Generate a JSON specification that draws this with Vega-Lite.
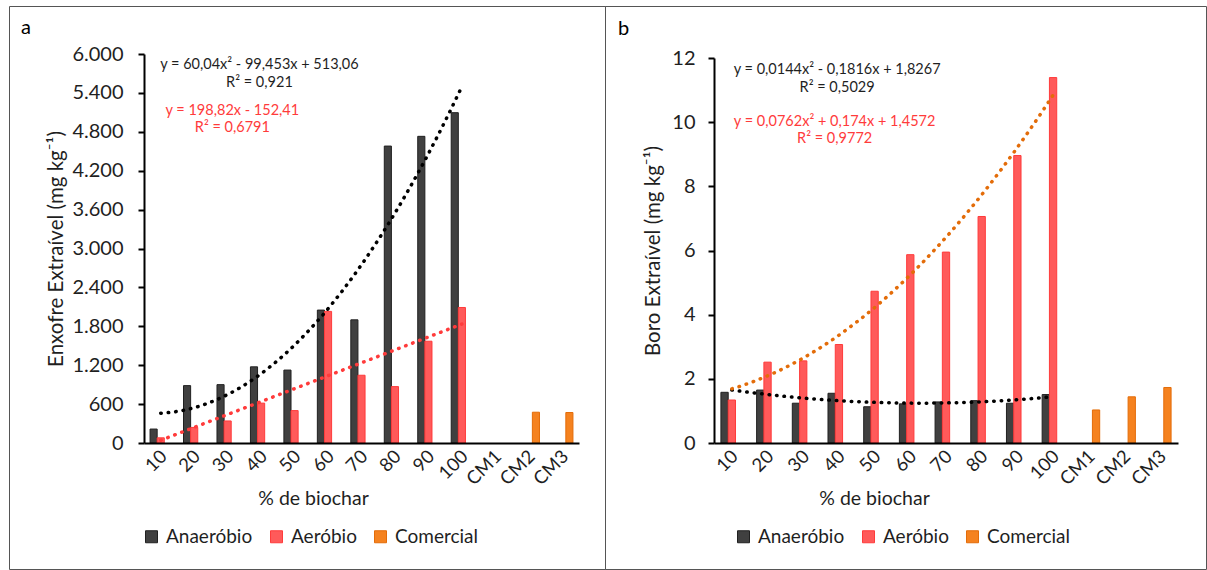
{
  "$schema": "https://vega.github.io/schema/vega-lite/v6.json",
  "background": "white",
  "padding": {"left": 8, "top": 5, "right": 0, "bottom": 0},
  "bounds": "flush",
  "spacing": 0,
  "config": {
    "font": "Lato",
    "view": {"stroke": "#555555", "strokeWidth": 1},
    "axis": {"labelFont": "Lato", "titleFont": "Lato", "labelColor": "#1f1f1f", "titleColor": "#1f1f1f", "titleFontWeight": "normal", "domainColor": "#000000", "tickColor": "#000000", "grid": false, "labelFontSize": 18.5},
    "legend": {"labelFont": "Lato", "labelFontSize": 19, "labelColor": "#1f1f1f"},
    "title": {"font": "Lato", "fontSize": 20, "fontWeight": "normal", "color": "#000000"}
  },
  "datasets": {
    "enxofre": [
      {"trat": "10", "pct": 10, "serie": "Anaeróbio", "valor": 215},
      {"trat": "20", "pct": 20, "serie": "Anaeróbio", "valor": 885},
      {"trat": "30", "pct": 30, "serie": "Anaeróbio", "valor": 900},
      {"trat": "40", "pct": 40, "serie": "Anaeróbio", "valor": 1175},
      {"trat": "50", "pct": 50, "serie": "Anaeróbio", "valor": 1125},
      {"trat": "60", "pct": 60, "serie": "Anaeróbio", "valor": 2050},
      {"trat": "70", "pct": 70, "serie": "Anaeróbio", "valor": 1900},
      {"trat": "80", "pct": 80, "serie": "Anaeróbio", "valor": 4580},
      {"trat": "90", "pct": 90, "serie": "Anaeróbio", "valor": 4730},
      {"trat": "100", "pct": 100, "serie": "Anaeróbio", "valor": 5095},
      {"trat": "10", "pct": 10, "serie": "Aeróbio", "valor": 80},
      {"trat": "20", "pct": 20, "serie": "Aeróbio", "valor": 240},
      {"trat": "30", "pct": 30, "serie": "Aeróbio", "valor": 340},
      {"trat": "40", "pct": 40, "serie": "Aeróbio", "valor": 615},
      {"trat": "50", "pct": 50, "serie": "Aeróbio", "valor": 500},
      {"trat": "60", "pct": 60, "serie": "Aeróbio", "valor": 2030},
      {"trat": "70", "pct": 70, "serie": "Aeróbio", "valor": 1045},
      {"trat": "80", "pct": 80, "serie": "Aeróbio", "valor": 870},
      {"trat": "90", "pct": 90, "serie": "Aeróbio", "valor": 1570},
      {"trat": "100", "pct": 100, "serie": "Aeróbio", "valor": 2090},
      {"trat": "CM2", "pct": null, "serie": "Comercial", "valor": 475},
      {"trat": "CM3", "pct": null, "serie": "Comercial", "valor": 470}
    ],
    "boro": [
      {"trat": "10", "pct": 10, "serie": "Anaeróbio", "valor": 1.58},
      {"trat": "20", "pct": 20, "serie": "Anaeróbio", "valor": 1.65},
      {"trat": "30", "pct": 30, "serie": "Anaeróbio", "valor": 1.24},
      {"trat": "40", "pct": 40, "serie": "Anaeróbio", "valor": 1.55},
      {"trat": "50", "pct": 50, "serie": "Anaeróbio", "valor": 1.13},
      {"trat": "60", "pct": 60, "serie": "Anaeróbio", "valor": 1.22},
      {"trat": "70", "pct": 70, "serie": "Anaeróbio", "valor": 1.28},
      {"trat": "80", "pct": 80, "serie": "Anaeróbio", "valor": 1.32},
      {"trat": "90", "pct": 90, "serie": "Anaeróbio", "valor": 1.24},
      {"trat": "100", "pct": 100, "serie": "Anaeróbio", "valor": 1.51},
      {"trat": "10", "pct": 10, "serie": "Aeróbio", "valor": 1.34},
      {"trat": "20", "pct": 20, "serie": "Aeróbio", "valor": 2.52},
      {"trat": "30", "pct": 30, "serie": "Aeróbio", "valor": 2.56},
      {"trat": "40", "pct": 40, "serie": "Aeróbio", "valor": 3.07},
      {"trat": "50", "pct": 50, "serie": "Aeróbio", "valor": 4.73},
      {"trat": "60", "pct": 60, "serie": "Aeróbio", "valor": 5.87},
      {"trat": "70", "pct": 70, "serie": "Aeróbio", "valor": 5.95},
      {"trat": "80", "pct": 80, "serie": "Aeróbio", "valor": 7.06},
      {"trat": "90", "pct": 90, "serie": "Aeróbio", "valor": 8.96},
      {"trat": "100", "pct": 100, "serie": "Aeróbio", "valor": 11.39},
      {"trat": "CM1", "pct": null, "serie": "Comercial", "valor": 1.03},
      {"trat": "CM2", "pct": null, "serie": "Comercial", "valor": 1.44},
      {"trat": "CM3", "pct": null, "serie": "Comercial", "valor": 1.73}
    ]
  },
  "hconcat": [
    {
      "width": 596,
      "height": 563,
      "data": {"name": "enxofre"},
      "title": {"text": "a", "anchor": "start", "frame": "group", "orient": "top", "offset": 0, "dx": 12, "dy": 48, "baseline": "alphabetic"},
      "layer": [
        {
          "mark": {"type": "bar", "strokeWidth": 1},
          "encoding": {
            "x": {"field": "trat", "type": "nominal", "sort": null,
              "scale": {"domain": ["10", "20", "30", "40", "50", "60", "70", "80", "90", "100", "CM1", "CM2", "CM3"], "range": [135, 570], "paddingInner": 0, "paddingOuter": 0},
              "axis": {"title": "% de biochar", "offset": -126, "labelAngle": -45, "labelAlign": "right", "labelBaseline": "middle", "labelPadding": 10, "labelOffset": 3, "ticks": false, "domainWidth": 2, "zindex": 1, "titleX": 304, "titleY": 55, "titleAlign": "center", "titleBaseline": "middle", "titleFontSize": 19.5, "labelOverlap": false}},
            "xOffset": {"field": "serie", "type": "nominal", "scale": {"domain": ["Anaeróbio", "Aeróbio", "Comercial"], "paddingInner": 0, "paddingOuter": 0.85}},
            "y": {"field": "valor", "type": "quantitative",
              "scale": {"domain": [0, 6000], "range": [437, 48], "nice": false, "zero": true},
              "axis": {"title": "Enxofre Extraível (mg kg⁻¹)", "offset": -135, "values": [0, 600, 1200, 1800, 2400, 3000, 3600, 4200, 4800, 5400, 6000], "labelExpr": "replace(format(datum.value, ',d'), ',', '.')", "labelFontSize": 20, "tickSize": 6, "tickWidth": 2, "domainWidth": 2, "labelPadding": 15, "labelOverlap": false, "labelFlush": false, "titleX": -88, "titleBaseline": "middle", "titleFontSize": 20.5}},
            "fill": {"field": "serie", "type": "nominal",
              "scale": {"domain": ["Anaeróbio", "Aeróbio", "Comercial"], "range": ["#404040", "#ff5a5a", "#f5821f"]},
              "legend": {"title": null, "orient": "none", "legendX": 133, "legendY": 521, "direction": "horizontal", "symbolType": "square", "symbolSize": 144, "symbolStrokeWidth": 1, "labelOffset": 5, "columnPadding": 14, "padding": 0}},
            "stroke": {"field": "serie", "type": "nominal",
              "scale": {"domain": ["Anaeróbio", "Aeróbio", "Comercial"], "range": ["#202020", "#ff3b3b", "#e36c09"]},
              "legend": {"title": null, "orient": "none", "legendX": 133, "legendY": 521, "direction": "horizontal", "symbolType": "square", "symbolSize": 144, "symbolStrokeWidth": 1, "labelOffset": 5, "columnPadding": 14, "padding": 0}}
          }
        },
        {
          "layer": [
            {
              "transform": [{"filter": "datum.serie === 'Anaeróbio'"}, {"regression": "valor", "on": "pct", "method": "poly", "order": 2}],
              "mark": {"type": "line", "color": "#000000", "strokeWidth": 3.5, "strokeDash": [0.5, 7], "strokeCap": "round"},
              "encoding": {
                "x": {"field": "pct", "type": "quantitative", "scale": {"domain": [5, 135], "range": [135, 570], "nice": false, "zero": false}, "axis": null},
                "y": {"field": "valor", "type": "quantitative", "scale": {"domain": [0, 6000], "range": [437, 48], "nice": false},
                  "axis": {"orient": "left", "offset": -135, "labels": false, "domain": false, "tickSize": -6, "tickWidth": 2, "title": null, "values": [0, 600, 1200, 1800, 2400, 3000, 3600, 4200, 4800, 5400, 6000]}}
              }
            },
            {
              "transform": [{"filter": "datum.serie === 'Aeróbio'"}, {"regression": "valor", "on": "pct", "method": "linear"}],
              "mark": {"type": "line", "color": "#ff3b3b", "strokeWidth": 3.5, "strokeDash": [0.5, 7], "strokeCap": "round"},
              "encoding": {
                "x": {"field": "pct", "type": "quantitative", "scale": {"domain": [5, 135], "range": [135, 570], "nice": false, "zero": false}, "axis": null},
                "y": {"field": "valor", "type": "quantitative", "axis": null}
              }
            },
            {
              "data": {"values": [{}]},
              "mark": {"type": "text", "align": "center", "baseline": "top", "fontSize": 14.5, "lineHeight": 18, "color": "#1f1f1f"},
              "encoding": {
                "x": {"datum": 39.5, "type": "quantitative", "axis": null},
                "y": {"datum": 5946, "type": "quantitative", "axis": null},
                "text": {"value": ["y = 60,04x² - 99,453x + 513,06", "R² = 0,921"]}
              }
            },
            {
              "data": {"values": [{}]},
              "mark": {"type": "text", "align": "center", "baseline": "top", "fontSize": 14.5, "lineHeight": 17, "color": "#ff3b3b"},
              "encoding": {
                "x": {"datum": 31.4, "type": "quantitative", "axis": null},
                "y": {"datum": 5226, "type": "quantitative", "axis": null},
                "text": {"value": ["y = 198,82x - 152,41", "R² = 0,6791"]}
              }
            }
          ]
        }
      ],
      "resolve": {"scale": {"x": "independent"}, "axis": {"y": "independent"}}
    },
    {
      "width": 601,
      "height": 563,
      "data": {"name": "boro"},
      "title": {"text": "b", "anchor": "start", "frame": "group", "orient": "top", "offset": 0, "dx": 13, "dy": 49, "baseline": "alphabetic"},
      "layer": [
        {
          "mark": {"type": "bar", "strokeWidth": 1},
          "encoding": {
            "x": {"field": "trat", "type": "nominal", "sort": null,
              "scale": {"domain": ["10", "20", "30", "40", "50", "60", "70", "80", "90", "100", "CM1", "CM2", "CM3"], "range": [109, 573], "paddingInner": 0, "paddingOuter": 0},
              "axis": {"title": "% de biochar", "offset": -126, "labelAngle": -45, "labelAlign": "right", "labelBaseline": "middle", "labelPadding": 10, "labelOffset": 3, "ticks": false, "domainWidth": 2, "zindex": 1, "titleX": 269, "titleY": 55, "titleAlign": "center", "titleBaseline": "middle", "titleFontSize": 19.5, "labelOverlap": false}},
            "xOffset": {"field": "serie", "type": "nominal", "scale": {"domain": ["Anaeróbio", "Aeróbio", "Comercial"], "paddingInner": 0, "paddingOuter": 0.95}},
            "y": {"field": "valor", "type": "quantitative",
              "scale": {"domain": [0, 12], "range": [437, 52], "nice": false, "zero": true},
              "axis": {"title": "Boro Extraível (mg kg⁻¹)", "offset": -109, "values": [0, 2, 4, 6, 8, 10, 12], "format": "d", "labelFontSize": 20, "tickSize": 6, "tickWidth": 2, "domainWidth": 2, "labelPadding": 13, "labelOverlap": false, "labelFlush": false, "titleX": -61, "titleBaseline": "middle", "titleFontSize": 20.5}},
            "fill": {"field": "serie", "type": "nominal",
              "scale": {"domain": ["Anaeróbio", "Aeróbio", "Comercial"], "range": ["#404040", "#ff5a5a", "#f5821f"]},
              "legend": {"title": null, "orient": "none", "legendX": 129, "legendY": 521, "direction": "horizontal", "symbolType": "square", "symbolSize": 144, "symbolStrokeWidth": 1, "labelOffset": 5, "columnPadding": 14, "padding": 0}},
            "stroke": {"field": "serie", "type": "nominal",
              "scale": {"domain": ["Anaeróbio", "Aeróbio", "Comercial"], "range": ["#202020", "#ff3b3b", "#e36c09"]},
              "legend": {"title": null, "orient": "none", "legendX": 129, "legendY": 521, "direction": "horizontal", "symbolType": "square", "symbolSize": 144, "symbolStrokeWidth": 1, "labelOffset": 5, "columnPadding": 14, "padding": 0}}
          }
        },
        {
          "layer": [
            {
              "transform": [{"filter": "datum.serie === 'Anaeróbio'"}, {"regression": "valor", "on": "pct", "method": "poly", "order": 2}],
              "mark": {"type": "line", "color": "#000000", "strokeWidth": 3.5, "strokeDash": [0.5, 7], "strokeCap": "round"},
              "encoding": {
                "x": {"field": "pct", "type": "quantitative", "scale": {"domain": [5, 135], "range": [109, 573], "nice": false, "zero": false}, "axis": null},
                "y": {"field": "valor", "type": "quantitative", "scale": {"domain": [0, 12], "range": [437, 52], "nice": false},
                  "axis": {"orient": "left", "offset": -109, "labels": false, "domain": false, "tickSize": -6, "tickWidth": 2, "title": null, "values": [0, 2, 4, 6, 8, 10, 12]}}
              }
            },
            {
              "transform": [{"filter": "datum.serie === 'Aeróbio'"}, {"regression": "valor", "on": "pct", "method": "poly", "order": 2}],
              "mark": {"type": "line", "color": "#e36c09", "strokeWidth": 3.5, "strokeDash": [0.5, 7], "strokeCap": "round"},
              "encoding": {
                "x": {"field": "pct", "type": "quantitative", "scale": {"domain": [5, 135], "range": [109, 573], "nice": false, "zero": false}, "axis": null},
                "y": {"field": "valor", "type": "quantitative", "axis": null}
              }
            },
            {
              "data": {"values": [{}]},
              "mark": {"type": "text", "align": "center", "baseline": "top", "fontSize": 14.5, "lineHeight": 18, "color": "#1f1f1f"},
              "encoding": {
                "x": {"datum": 39.5, "type": "quantitative", "axis": null},
                "y": {"datum": 11.83, "type": "quantitative", "axis": null},
                "text": {"value": ["y = 0,0144x² - 0,1816x + 1,8267", "R² = 0,5029"]}
              }
            },
            {
              "data": {"values": [{}]},
              "mark": {"type": "text", "align": "center", "baseline": "top", "fontSize": 14.5, "lineHeight": 17, "color": "#ff3b3b"},
              "encoding": {
                "x": {"datum": 38.8, "type": "quantitative", "axis": null},
                "y": {"datum": 10.22, "type": "quantitative", "axis": null},
                "text": {"value": ["y = 0,0762x² + 0,174x + 1,4572", "R² = 0,9772"]}
              }
            }
          ]
        }
      ],
      "resolve": {"scale": {"x": "independent"}, "axis": {"y": "independent"}}
    }
  ],
  "resolve": {"scale": {"x": "independent", "y": "independent", "xOffset": "independent"}, "legend": {"fill": "independent", "stroke": "independent"}}
}
